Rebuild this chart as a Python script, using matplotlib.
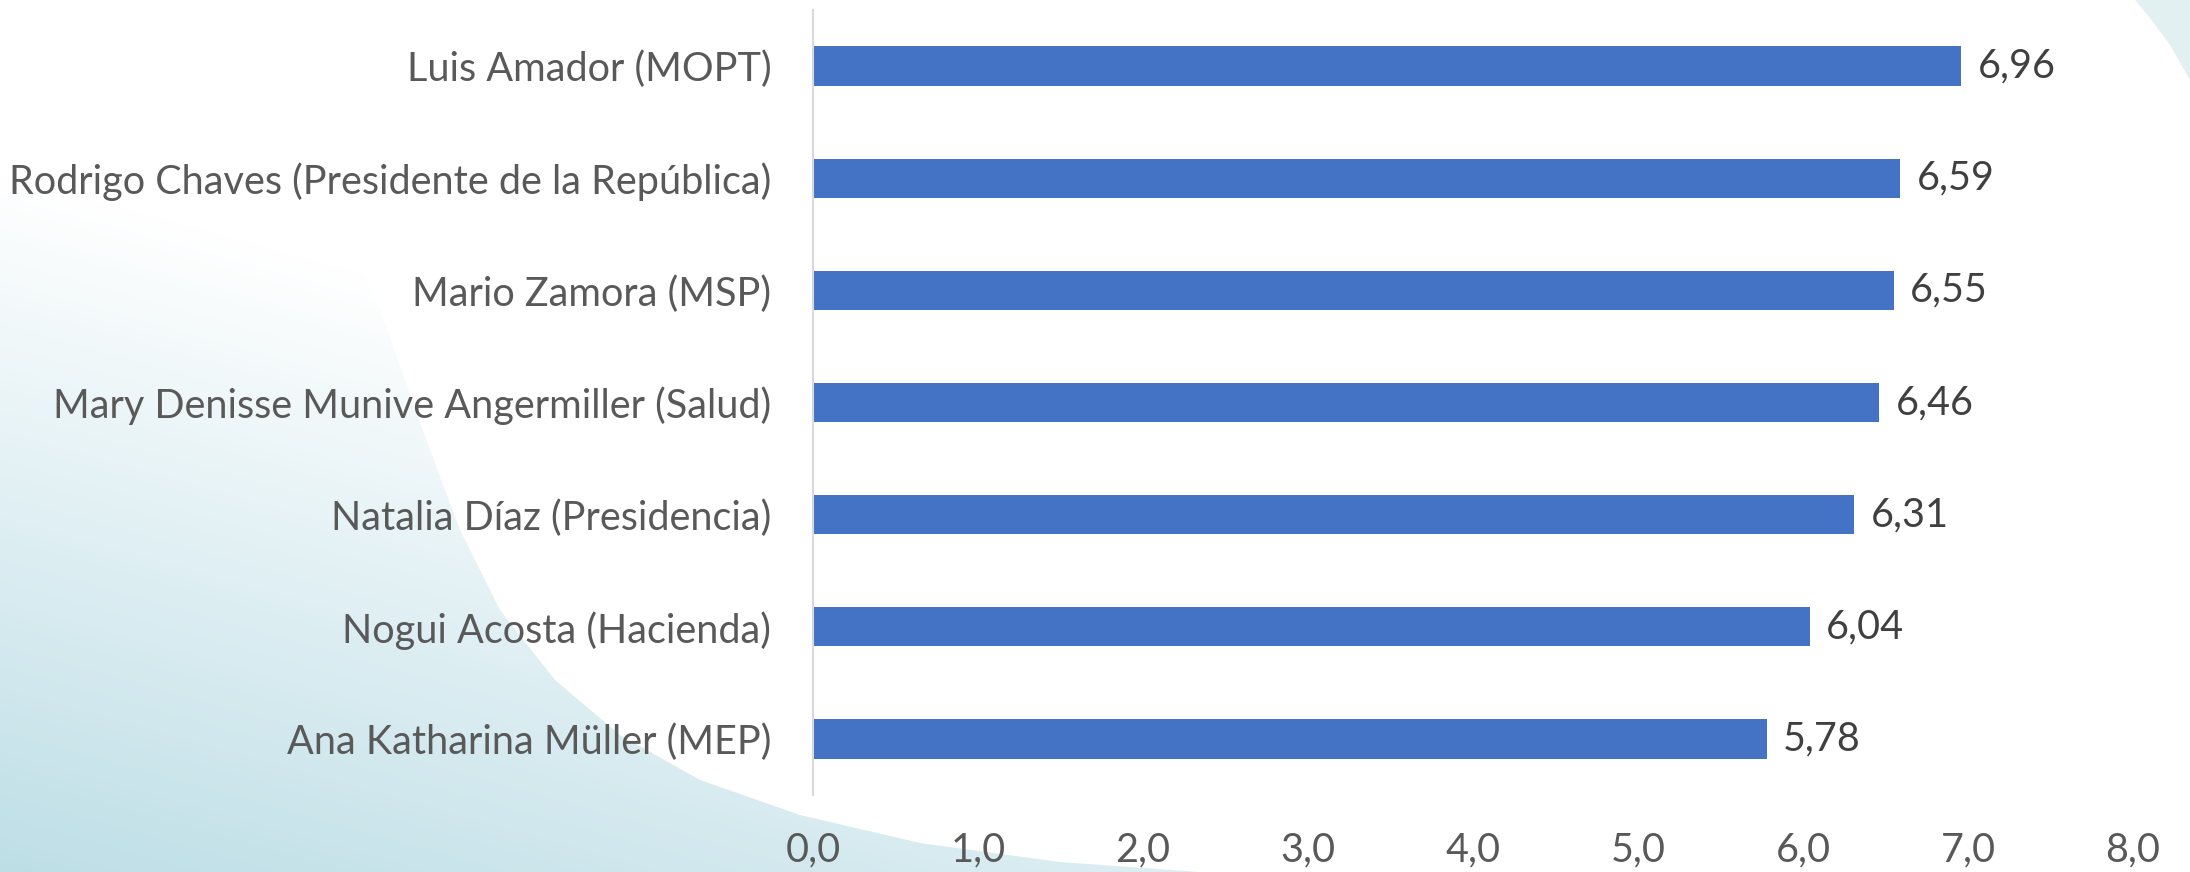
import numpy as np
import matplotlib
matplotlib.use('Agg')
from matplotlib import pyplot as plt
from matplotlib.patches import Polygon

# ministers and their scores (top to bottom as shown)
names = [
    'Luis Amador (MOPT)',
    'Rodrigo Chaves (Presidente de la República)',
    'Mario Zamora (MSP)',
    'Mary Denisse Munive Angermiller (Salud)',
    'Natalia Díaz (Presidencia)',
    'Nogui Acosta (Hacienda)',
    'Ana Katharina Müller (MEP)',
]
scores = [6.96, 6.59, 6.55, 6.46, 6.31, 6.04, 5.78]
x_ticks = [0, 1, 2, 3, 4, 5, 6, 7, 8]

W, H = 2190, 872
plt.rcParams['font.family'] = ['Lato', 'DejaVu Sans']
fig = plt.figure(figsize=(W / 100, H / 100), dpi=100)

# decorative background swoosh
bg = fig.add_axes([0, 0, 1, 1], zorder=0)
bg.set_xlim(0, W)
bg.set_ylim(H, 0)
bg.axis('off')
yy, xx = np.mgrid[0:H, 0:W]
w = np.clip((yy / H) * 1.0 + (1 - xx / 1100) * 0.35 - 0.55, 0, 1)
rgb = np.ones((H, W, 3))
base = np.array([0.68, 0.84, 0.88])
for c in range(3):
    rgb[..., c] = 1 - w * (1 - base[c])
img = bg.imshow(rgb, extent=(0, W, H, 0), aspect='auto')
shape = Polygon([(0, 100), (60, 90), (130, 88), (200, 100), (260, 130), (310, 180),
                 (350, 245), (380, 310), (405, 380), (430, 450), (460, 530),
                 (500, 610), (555, 680), (620, 735), (700, 780), (800, 815),
                 (920, 843), (1060, 862), (1200, 872), (0, 872)], closed=True,
                facecolor='none', edgecolor='none', transform=bg.transData)
bg.add_patch(shape)
img.set_clip_path(shape)
corner = Polygon([(2135, 0), (2190, 0), (2190, 80), (2170, 45), (2150, 18)], closed=True,
                 facecolor='#e3f0f2', edgecolor='none')
bg.add_patch(corner)

ax = fig.add_axes([813 / W, 77 / H, 1320 / W, 785 / H], zorder=1)
ax.patch.set_alpha(0)
y = np.arange(len(names))
ax.barh(y, scores, height=0.35, color='#4472C4')
ax.set_ylim(len(names) - 0.5, -0.5)
ax.set_xlim(0, 8)
ax.set_yticks(y)
ax.set_yticklabels(names, fontsize=28.5, color='#595959')
ax.set_xticks(x_ticks)
ax.set_xticklabels([f'{v:.1f}'.replace('.', ',') for v in x_ticks],
                   fontsize=28.5, color='#595959')
ax.tick_params(axis='y', length=0, pad=30)
ax.tick_params(axis='x', length=0, pad=26)
for s in ['top', 'right', 'bottom']:
    ax.spines[s].set_visible(False)
ax.spines['left'].set_color('#D9D9D9')
ax.spines['left'].set_linewidth(1.5)

for yi, v in zip(y, scores):
    ax.text(v + 0.1, yi, f'{v:.2f}'.replace('.', ','), va='center', ha='left',
            fontsize=28.5, color='#404040')

fig.savefig('out.png', dpi=100)
